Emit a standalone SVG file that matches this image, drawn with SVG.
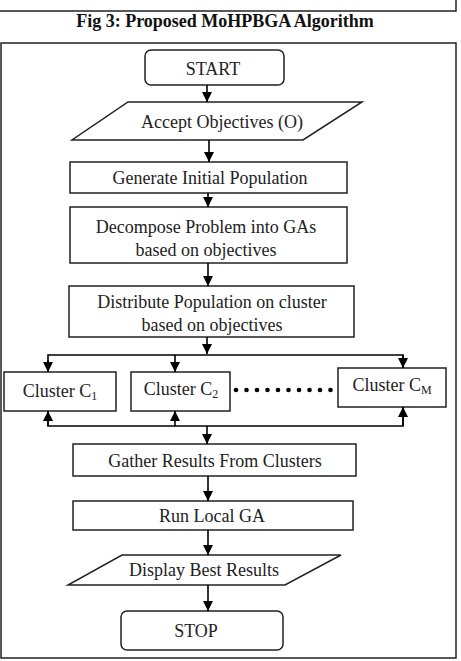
<svg xmlns="http://www.w3.org/2000/svg" width="461" height="661" viewBox="0 0 461 661">
<defs>
<marker id="ah" viewBox="0 0 10 10" refX="10" refY="5" markerWidth="10" markerHeight="10" markerUnits="userSpaceOnUse" orient="auto">
<path d="M0,0 L10,5 L0,10 z" fill="#000"/>
</marker>
<style>
.box{fill:#fff;stroke:#222;stroke-width:1.5}
.frame{fill:none;stroke:#222;stroke-width:1.5}
text{font-family:'Liberation Serif','Times New Roman','DejaVu Serif',serif}
.t{font-size:18px;fill:#222;text-anchor:middle}
.cap{font-size:18px;font-weight:bold;fill:#111;text-anchor:middle}
.ln{fill:none;stroke:#000;stroke-width:1.6}
.sub{font-size:12px}
</style>
</defs>
<rect width="461" height="661" fill="#fff"/>
<path class="frame" d="M0,11 H456 V0"/>
<text class="cap" x="225" y="27">Fig 3: Proposed MoHPBGA Algorithm</text>
<rect class="frame" x="1" y="43" width="455" height="615"/>

<g id="start">
<rect class="box" x="145" y="50" width="139" height="35" rx="6"/>
<text class="t" x="213" y="75">START</text>
</g>
<g id="accept">
<polygon class="box" points="128,102 362,102 303,140 72,140"/>
<text class="t" x="222" y="128">Accept Objectives (O)</text>
</g>
<g id="generate">
<rect class="box" x="70" y="162" width="277" height="31"/>
<text class="t" x="210" y="184">Generate Initial Population</text>
</g>
<g id="decompose">
<rect class="box" x="70" y="207" width="277" height="56"/>
<text class="t" x="206" y="233">Decompose Problem into GAs</text>
<text class="t" x="206" y="256">based on objectives</text>
</g>
<g id="distribute">
<rect class="box" x="69" y="286" width="285" height="51"/>
<text class="t" x="212" y="308">Distribute Population on cluster</text>
<text class="t" x="212" y="331">based on objectives</text>
</g>
<g id="c1">
<rect class="box" x="4" y="372" width="112" height="39"/>
<text class="t" x="60" y="397">Cluster C<tspan class="sub" dy="3">1</tspan></text>
</g>
<g id="c2">
<rect class="box" x="131" y="372" width="99" height="39"/>
<text class="t" x="181" y="395">Cluster C<tspan class="sub" dy="3">2</tspan></text>
</g>
<g id="cm">
<rect class="box" x="338" y="368" width="108" height="39"/>
<text class="t" x="392" y="391">Cluster C<tspan class="sub" dy="3">M</tspan></text>
</g>
<g id="dots" fill="#000">
<circle cx="236" cy="390" r="2.3"/><circle cx="246.5" cy="390" r="2.3"/><circle cx="257" cy="390" r="2.3"/><circle cx="267.5" cy="390" r="2.3"/><circle cx="278" cy="390" r="2.3"/><circle cx="288.5" cy="390" r="2.3"/><circle cx="299" cy="390" r="2.3"/><circle cx="309.5" cy="390" r="2.3"/><circle cx="320" cy="390" r="2.3"/><circle cx="330.5" cy="390" r="2.3"/>
</g>
<g id="gather">
<rect class="box" x="73" y="444" width="283" height="32"/>
<text class="t" x="215" y="467">Gather Results From Clusters</text>
</g>
<g id="run">
<rect class="box" x="73" y="501" width="280" height="29"/>
<text class="t" x="212" y="522">Run Local GA</text>
</g>
<g id="display">
<polygon class="box" points="122,555 341,555 285,585 68,585"/>
<text class="t" x="204" y="576">Display Best Results</text>
</g>
<g id="stop">
<rect class="box" x="121" y="611" width="162" height="39" rx="6"/>
<text class="t" x="196" y="637">STOP</text>
</g>

<g id="connectors">
<line class="ln" x1="207" y1="85" x2="207" y2="102" marker-end="url(#ah)"/>
<line class="ln" x1="209" y1="140" x2="209" y2="162" marker-end="url(#ah)"/>
<line class="ln" x1="208" y1="193" x2="208" y2="207" marker-end="url(#ah)"/>
<line class="ln" x1="208" y1="263" x2="208" y2="286" marker-end="url(#ah)"/>
<line class="ln" x1="207" y1="337" x2="207" y2="354" marker-end="url(#ah)"/>
<path class="ln" d="M48,372 V355 H403 V368"/>
<line class="ln" x1="48" y1="360" x2="48" y2="372" marker-end="url(#ah)"/>
<line class="ln" x1="175" y1="355" x2="175" y2="372" marker-end="url(#ah)"/>
<line class="ln" x1="403" y1="355" x2="403" y2="368" marker-end="url(#ah)"/>
<path class="ln" d="M48,411 V426 H403 V407"/>
<line class="ln" x1="48" y1="426" x2="48" y2="411" marker-end="url(#ah)"/>
<line class="ln" x1="175" y1="426" x2="175" y2="411" marker-end="url(#ah)"/>
<line class="ln" x1="403" y1="426" x2="403" y2="407" marker-end="url(#ah)"/>
<line class="ln" x1="207" y1="426" x2="207" y2="444" marker-end="url(#ah)"/>
<line class="ln" x1="208" y1="476" x2="208" y2="501" marker-end="url(#ah)"/>
<line class="ln" x1="208" y1="530" x2="208" y2="555" marker-end="url(#ah)"/>
<line class="ln" x1="208" y1="585" x2="208" y2="611" marker-end="url(#ah)"/>
</g>
</svg>
